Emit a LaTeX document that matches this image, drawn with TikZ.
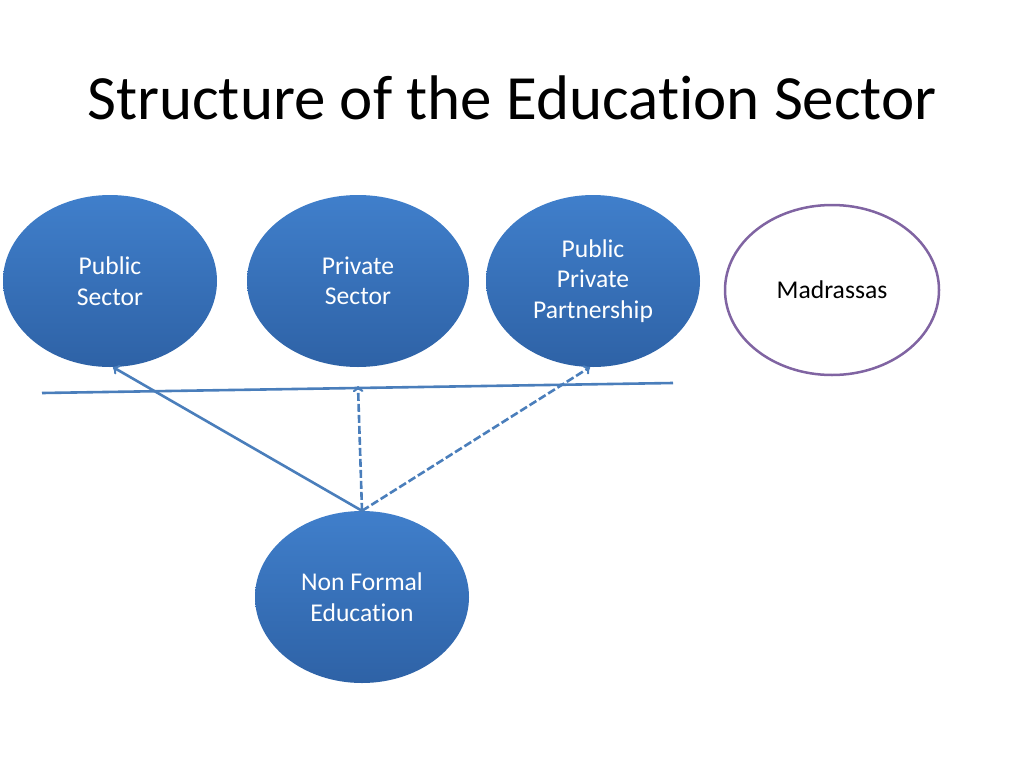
\documentclass[tikz,border=0pt]{standalone}
\usepackage{fontspec}
\setmainfont{Carlito}[RawFeature=-liga]
\usetikzlibrary{shapes.geometric, arrows}
\definecolor{blueTop}{HTML}{407FCB}
\definecolor{blueBot}{HTML}{2E62A6}
\definecolor{lineBlue}{HTML}{4A7EBB}
\definecolor{madPurple}{HTML}{8064A2}
\tikzstyle{sector} = [ellipse, 
minimum width=214pt, 
minimum height=172pt, 
inner sep=0pt,
text centered, 
align=center,
text=white,
top color=blueTop, 
bottom color=blueBot,
font=\fontsize{25.6}{30.5}\selectfont]
\tikzstyle{outsider} = [ellipse, 
minimum width=214pt, 
minimum height=170pt, 
inner sep=0pt,
align=center,
draw=madPurple,
line width=2.5pt,
fill=white,
font=\fontsize{25.6}{30.5}\selectfont]
\tikzstyle{arrow} = [line width=2.6pt, draw=lineBlue, ->, >=to]
\tikzstyle{dasharrow} = [arrow, dash pattern=on 8pt off 3pt]

\begin{document}
\begin{tikzpicture}[x=1pt, y=-1pt]
\useasboundingbox (0,0) rectangle (1024,768);

\node (title) at (512,98) {\fontsize{63}{70}\selectfont Structure of the Education Sector};

\node (pub) [sector] at (110,281) {Public\\Sector};
\node (priv) [sector, minimum width=222pt] at (358,281) {Private\\Sector};
\node (ppp) [sector] at (593,281) {Public\\Private\\Partnership};
\node (mad) [outsider] at (832,290) {Madrassas};
\node (nfe) [sector] at (362,597) {Non Formal\\Education};

\coordinate (lineL) at (42,393);
\coordinate (lineR) at (673,383);
\coordinate (privTip) at (358,386);

\draw [line width=2.6pt, draw=lineBlue] (lineL) -- (lineR);
\draw [arrow] (nfe.north) -- (pub.-88);
\draw [dasharrow] (nfe.north) -- (privTip);
\draw [dasharrow] (nfe.north) -- (ppp.-92);
\end{tikzpicture}
\end{document}
